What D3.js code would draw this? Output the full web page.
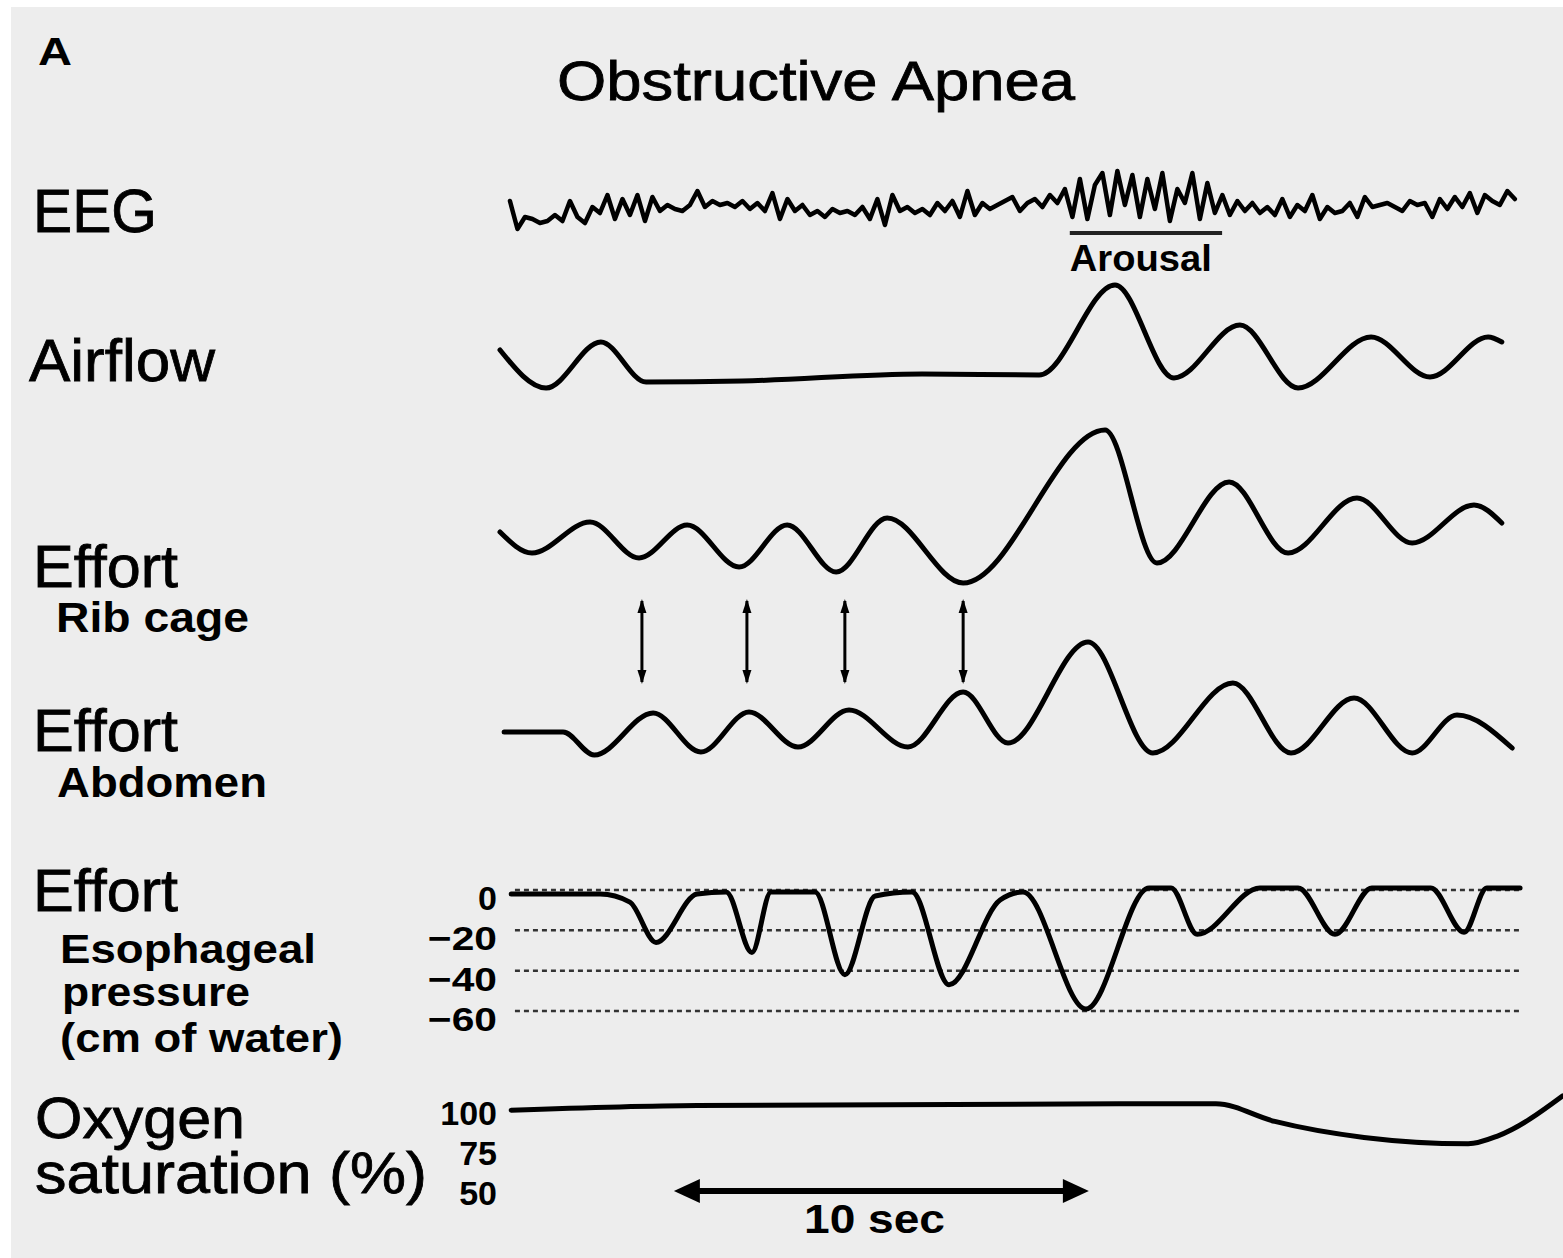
<!DOCTYPE html>
<html>
<head>
<meta charset="utf-8">
<script src="https://cdn.jsdelivr.net/npm/d3@7"></script>
<style>
  body { margin: 0; background: #fff; }
  svg { display: block; }
</style>
</head>
<body>
<script>
const eegStart = 0.24, eegStep = 0.1807;
const eegValues = [
  8, -20, -8, -10, -14, -12, -6, -12, 8, -8, -14, 2, -4, 14, -10, 10, -6, 14, -12, 12, -2, 4, 0, -2, 4, 18,
  2, 8, 4, 6, 2, 8, 0, 6, -2, 16, -10, 10, -2, 4, -6, -2, -8, 0, -4, -2, -6, 2, -10, 10, -16, 14, -2, 2, -4, 0,
  -6, 6, -2, 8, -8, 18, -6, 6, 0, 4, 8, 12, -2, 6, 10, 2, 14, 6,
  20, -8, 30, -10, 24, 36, -6, 38, 4, 34, -8, 30, 0, 36, -12, 20, 6, 36, -10, 26, -4, 14,
  -6, 8, -2, 6, -4, 2, -6, 10, -8, 4, -2, 14, -10, 2, -4, -2, 6, -8, 12, 2, 4, 6, 2, -2, 8, 4, 6, -8, 10, 0,
  12, 2, 16, -4, 14, 8, 4, 18, 10
];
const arousalSpan = [13.73, 17.4];

const airflowT = [0.0, 1.11, 2.43, 3.52, 5.83, 10.17, 12.99, 14.82, 16.24, 17.83, 19.23, 20.99, 22.41, 23.81, 24.14];
const airflowV = [25, -13, 33, -7, -6, 1, 0, 90, -3, 50, -13, 38, -2, 38, 33];

const ribT = [0, 0.77, 2.17, 3.35, 4.51, 5.76, 6.92, 8.10, 9.33, 11.16, 14.58, 15.83, 17.57, 18.99, 20.65, 21.98, 23.47, 24.14];
const ribV = [8, -13, 18, -18, 15, -27, 15, -32, 22, -43, 110, -23, 58, -13, 42, -3, 35, 17];

const abdT = [0.10, 1.52, 2.27, 3.69, 4.84, 6.00, 7.18, 8.41, 9.83, 11.16, 12.24, 14.17, 15.73, 17.66, 19.06, 20.58, 21.98, 23.06, 24.39];
const abdV = [-2, -2, -25, 17, -22, 18, -17, 20, -17, 38, -13, 88, -23, 47, -23, 32, -23, 15, -18];

const paradoxTimes = [3.42, 5.95, 8.31, 11.16];

const esoT = [0.27, 2.41, 3.13, 3.76, 4.75, 5.45, 6.07, 6.53, 7.59, 8.31, 9.04, 9.93, 10.82, 12.05, 12.60, 14.12, 15.64, 16.17, 16.80, 18.31, 19.23, 20.12, 21.01, 22.43, 23.23, 23.78, 24.58];
const esoP = [-2, -2, -6, -26, -2, -1, -31, -1, -1, -42, -3, -1, -47, -5, -1, -59, 1, 1, -22, 1, 1, -22, 1, 1, -21, 1, 1];
const esoTicks = [0, -20, -40, -60];
const esoTickLabels = ["0", "\u221220", "\u221240", "\u221260"];

const oxyT = [0.27, 4.75, 17.25, 18.67, 20.82, 23.33, 24.05, 25.61];
const oxyS = [98, 101, 102, 91, 81, 77, 82, 107];
const oxyTicks = [100, 75, 50];

const scaleBar = { start: 4.19, length: 10, label: "10 sec" };

// ---- layout ----
const W = 1563, H = 1258;
const FONT = "'Liberation Sans', Arial, Helvetica, sans-serif";

const svg = d3.select("body").append("svg")
  .attr("width", W)
  .attr("height", H);

svg.append("rect")
  .attr("x", 11).attr("y", 7)
  .attr("width", W - 11).attr("height", H - 7)
  .attr("fill", "#ededed");

const x = d3.scaleLinear().domain([0, 10]).range([500, 915]);

const yEeg = d3.scaleLinear().domain([-40, 40]).range([249, 169]);
const yAir = d3.scaleLinear().domain([-100, 100]).range([475, 275]);
const yRib = d3.scaleLinear().domain([-100, 100]).range([640, 440]);
const yAbd = d3.scaleLinear().domain([-100, 100]).range([830, 630]);
const yEso = d3.scaleLinear().domain([-60, 0]).range([1011, 890]);
const yOxy = d3.scaleLinear().domain([75, 100]).range([1147, 1107]);

function trace(ts, vs, y, curve, width) {
  const line = d3.line()
    .x(d => x(d[0]))
    .y(d => y(d[1]))
    .curve(curve);
  svg.append("path")
    .datum(d3.zip(ts, vs))
    .attr("d", line)
    .attr("fill", "none")
    .attr("stroke", "#000")
    .attr("stroke-width", width)
    .attr("stroke-linejoin", "round")
    .attr("stroke-linecap", "round");
}

// EEG
const eegT = eegValues.map((v, i) => eegStart + i * eegStep);
trace(eegT, eegValues, yEeg, d3.curveLinear, 4.5);

// arousal bar
svg.append("line")
  .attr("x1", x(arousalSpan[0])).attr("x2", x(arousalSpan[1]))
  .attr("y1", 233).attr("y2", 233)
  .attr("stroke", "#222").attr("stroke-width", 4);

trace(airflowT, airflowV, yAir, d3.curveMonotoneX, 5);
trace(ribT, ribV, yRib, d3.curveMonotoneX, 5);
trace(abdT, abdV, yAbd, d3.curveMonotoneX, 5);

// paradoxical motion arrows
const arrowG = svg.append("g");
paradoxTimes.forEach(t => {
  const cx = x(t), top = 599, bot = 684;
  arrowG.append("line")
    .attr("x1", cx).attr("x2", cx)
    .attr("y1", top + 2).attr("y2", bot - 2)
    .attr("stroke", "#000").attr("stroke-width", 3);
  arrowG.append("path")
    .attr("d", `M${cx},${top} L${cx - 4.5},${top + 14} L${cx + 4.5},${top + 14} Z`)
    .attr("fill", "#000");
  arrowG.append("path")
    .attr("d", `M${cx},${bot} L${cx - 4.5},${bot - 14} L${cx + 4.5},${bot - 14} Z`)
    .attr("fill", "#000");
});

// esophageal guides
svg.append("g").selectAll("line")
  .data(esoTicks)
  .join("line")
  .attr("x1", x(0.36)).attr("x2", x(24.6))
  .attr("y1", d => yEso(d)).attr("y2", d => yEso(d))
  .attr("stroke", "#333")
  .attr("stroke-width", 2.5)
  .attr("stroke-dasharray", "5,4");

trace(esoT, esoP, yEso, d3.curveMonotoneX, 5);

svg.append("g").selectAll("text")
  .data(esoTicks)
  .join("text")
  .attr("x", 497)
  .attr("y", d => yEso(d) + 20)
  .attr("text-anchor", "end")
  .attr("font-family", FONT)
  .attr("font-weight", "bold")
  .attr("font-size", 34)
  .each(function (d, i) {
    const el = d3.select(this).text(esoTickLabels[i]);
    if (i > 0) el.attr("textLength", 69).attr("lengthAdjust", "spacingAndGlyphs");
  });

// oxygen
trace(oxyT, oxyS, yOxy, d3.curveMonotoneX, 5);

svg.append("g").selectAll("text")
  .data(oxyTicks)
  .join("text")
  .attr("x", 497)
  .attr("y", d => yOxy(d) + 18)
  .attr("text-anchor", "end")
  .attr("font-family", FONT)
  .attr("font-weight", "bold")
  .attr("font-size", 34)
  .text(d => d);

// 10 sec scale bar
const sb0 = x(scaleBar.start), sb1 = x(scaleBar.start + scaleBar.length), sby = 1191;
svg.append("line")
  .attr("x1", sb0 + 10).attr("x2", sb1 - 10)
  .attr("y1", sby).attr("y2", sby)
  .attr("stroke", "#000").attr("stroke-width", 6);
svg.append("path")
  .attr("d", `M${sb0},${sby} L${sb0 + 26},${sby - 12} L${sb0 + 26},${sby + 12} Z`)
  .attr("fill", "#000");
svg.append("path")
  .attr("d", `M${sb1},${sby} L${sb1 - 26},${sby - 12} L${sb1 - 26},${sby + 12} Z`)
  .attr("fill", "#000");

// ---- text labels ----
const labels = [
  { t: "A", x: 38, y: 65, s: 38, w: "bold", len: 34 },
  { t: "Obstructive Apnea", x: 557, y: 100, s: 56, w: "normal", len: 518 },
  { t: "EEG", x: 33, y: 232, s: 62, w: "normal", len: 124 },
  { t: "Airflow", x: 29, y: 381, s: 60, w: "normal", len: 186 },
  { t: "Effort", x: 33, y: 587, s: 60, w: "normal", len: 145 },
  { t: "Rib cage", x: 56, y: 632, s: 42, w: "bold", len: 193 },
  { t: "Effort", x: 33, y: 751, s: 60, w: "normal", len: 145 },
  { t: "Abdomen", x: 57, y: 797, s: 42, w: "bold", len: 210 },
  { t: "Effort", x: 33, y: 911, s: 60, w: "normal", len: 145 },
  { t: "Esophageal", x: 60, y: 963, s: 41, w: "bold", len: 256 },
  { t: "pressure", x: 62, y: 1006, s: 41, w: "bold", len: 188 },
  { t: "(cm of water)", x: 60, y: 1052, s: 41, w: "bold", len: 283 },
  { t: "Oxygen", x: 35, y: 1138, s: 57, w: "normal", len: 210 },
  { t: "saturation (%)", x: 35, y: 1193, s: 58, w: "normal", len: 392 },
  { t: "Arousal", x: x(arousalSpan[0]), y: 271, s: 36, w: "bold", len: 142 },
  { t: scaleBar.label, x: 804, y: 1233, s: 40, w: "bold", len: 141 }
];

svg.append("g").selectAll("text")
  .data(labels)
  .join("text")
  .attr("x", d => d.x)
  .attr("y", d => d.y)
  .attr("font-family", FONT)
  .attr("font-size", d => d.s)
  .attr("font-weight", d => d.w)
  .attr("textLength", d => d.len)
  .attr("lengthAdjust", "spacingAndGlyphs")
  .attr("fill", "#000")
  .attr("stroke", d => d.w === "normal" ? "#000" : "none")
  .attr("stroke-width", 0.8)
  .text(d => d.t);
</script>
</body>
</html>
